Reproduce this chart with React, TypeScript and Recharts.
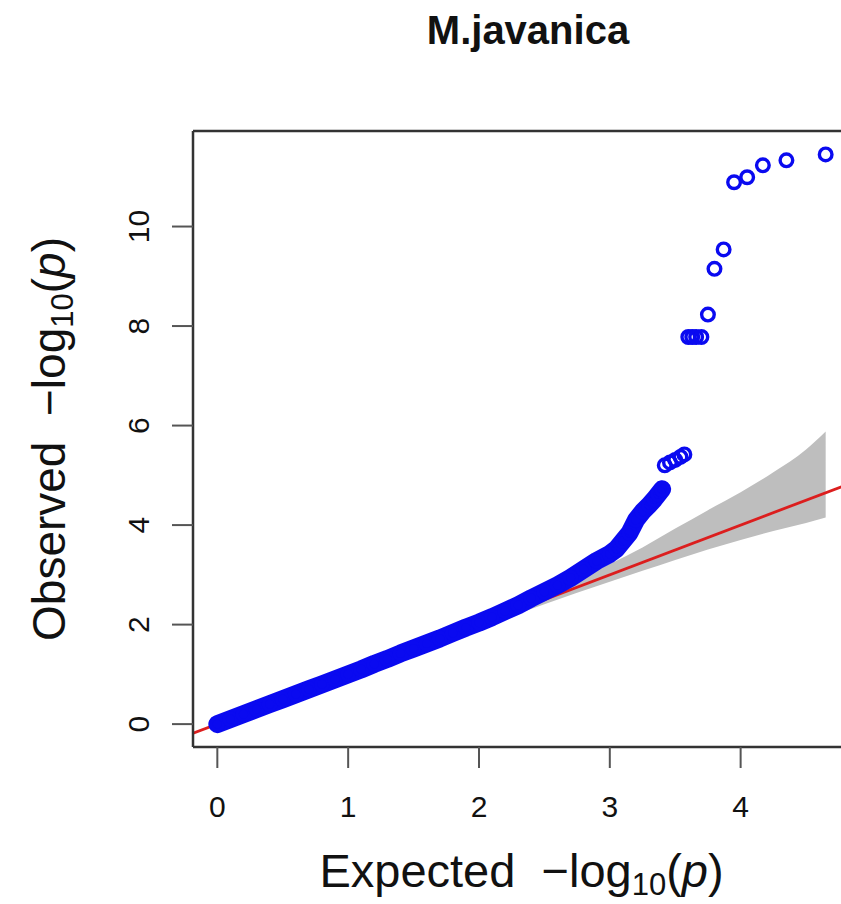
import { ComposedChart, Area, Line, Scatter, XAxis, YAxis, ReferenceLine } from "recharts";

const TITLE = "M.javanica";
const X_TICKS = [0, 1, 2, 3, 4];
const Y_TICKS = [0, 2, 4, 6, 8, 10];
const X_DOMAIN = [-0.186, 4.836];
const Y_DOMAIN = [-0.46, 11.92];

const BLUE = "#0a0af0";
const RED = "#dc1e1e";
const GREY = "#bebebe";
const FONT = "'Liberation Sans', Arial, Helvetica, sans-serif";

// confidence band around the null line (expected, lower, upper)
const bandX = [0, 1, 2, 2.5, 3.0, 3.25, 3.5, 3.75, 4.0, 4.25, 4.5, 4.65];
const bandLow = [0, 0.97, 1.94, 2.41, 2.86, 3.08, 3.3, 3.51, 3.7, 3.88, 4.04, 4.15];
const bandHigh = [0, 1.03, 2.08, 2.63, 3.22, 3.55, 3.93, 4.3, 4.66, 5.06, 5.52, 5.88];

// bulk of the p-values, where the circles overlap into a solid band
const denseExp = [
  0, 0.1, 0.2, 0.3, 0.4, 0.5, 0.6, 0.7, 0.8, 0.9, 1.0, 1.1, 1.2, 1.3, 1.4, 1.5,
  1.6, 1.7, 1.8, 1.9, 2.0, 2.1, 2.2, 2.3, 2.4, 2.5, 2.6, 2.7, 2.8, 2.9, 3.0,
  3.05, 3.1, 3.15, 3.2, 3.25, 3.3, 3.34, 3.37, 3.4,
];
const denseObs = [
  0, 0.1, 0.2, 0.3, 0.4, 0.5, 0.6, 0.7, 0.8, 0.9, 1.0, 1.1, 1.21, 1.31, 1.42, 1.52,
  1.62, 1.72, 1.83, 1.94, 2.04, 2.15, 2.27, 2.39, 2.53, 2.66, 2.79, 2.94, 3.11, 3.28, 3.42,
  3.52, 3.68, 3.84, 4.1, 4.27, 4.4, 4.52, 4.62, 4.72,
];

// separated top hits
const tailExp = [3.42, 3.46, 3.5, 3.54, 3.57, 3.6, 3.63, 3.66, 3.7, 3.75, 3.8, 3.87, 3.95, 4.05, 4.17, 4.35, 4.65];
const tailObs = [5.2, 5.26, 5.31, 5.37, 5.42, 7.78, 7.78, 7.78, 7.78, 8.23, 9.15, 9.54, 10.89, 10.99, 11.23, 11.33, 11.45];

// y = x reference
const diagX = [-1, 6];

const bandData = bandX.map((x, i) => ({ x, range: [bandLow[i], bandHigh[i]] }));
const densePts = denseExp.map((x, i) => ({ x, y: denseObs[i] }));
const tailPts = tailExp.map((x, i) => ({ x, y: tailObs[i] }));
const diagPts = diagX.map((x) => ({ x, y: x }));

const ring = (p: any) => (
  <circle cx={p.cx} cy={p.cy} r={6.3} fill="none" stroke={BLUE} strokeWidth={3.4} />
);

const XTick = (p: any) => (
  <text x={p.x} y={p.y + 47} textAnchor="middle" fontSize={30} fontFamily={FONT} fill="#111">
    {p.payload.value}
  </text>
);

const YTick = (p: any) => (
  <text
    x={p.x - 21}
    y={p.y}
    textAnchor="middle"
    fontSize={30}
    fontFamily={FONT}
    fill="#111"
    transform={`rotate(-90, ${p.x - 21}, ${p.y})`}
  >
    {p.payload.value}
  </text>
);

const AxisText = ({ name }: { name: string }) => (
  <>
    <tspan>{`${name}\u00a0 \u2212log`}</tspan>
    <tspan fontSize={31} dy={8}>10</tspan>
    <tspan dy={-8}>(</tspan>
    <tspan fontStyle="italic">p</tspan>
    <tspan>)</tspan>
  </>
);

const XTitle = (p: any) => {
  const vb = p.viewBox;
  const cx = vb.x + vb.width / 2;
  return (
    <text x={cx} y={vb.y + 140} textAnchor="middle" fontSize={47} fontFamily={FONT} fill="#111">
      <AxisText name="Expected" />
    </text>
  );
};

const YTitle = (p: any) => {
  const vb = p.viewBox;
  const cy = vb.y + vb.height / 2;
  const bx = 65;
  return (
    <text
      x={bx}
      y={cy}
      textAnchor="middle"
      fontSize={46}
      fontFamily={FONT}
      fill="#111"
      transform={`rotate(-90, ${bx}, ${cy})`}
    >
      <AxisText name="Observed" />
    </text>
  );
};

export default function App() {
  return (
    <div
      style={{
        position: "absolute",
        left: 0,
        top: 0,
        width: 841,
        height: 904,
        overflow: "hidden",
        background: "#fff",
      }}
    >
      <div
        style={{
          position: "absolute",
          left: 328,
          top: 7,
          width: 400,
          textAlign: "center",
          fontFamily: FONT,
          fontWeight: 700,
          fontSize: 40,
          lineHeight: "46px",
          color: "#111",
        }}
      >
        {TITLE}
      </div>
      <ComposedChart
        width={860}
        height={904}
        data={bandData}
        margin={{ top: 131, right: 10, bottom: 27, left: 0 }}
      >
        <XAxis
          dataKey="x"
          type="number"
          domain={X_DOMAIN}
          allowDataOverflow
          ticks={X_TICKS}
          interval={0}
          height={130}
          tickSize={21}
          tickLine={{ stroke: "#555", strokeWidth: 2 }}
          axisLine={{ stroke: "#333", strokeWidth: 2.5 }}
          tick={XTick}
          label={{ content: XTitle }}
        />
        <YAxis
          dataKey="y"
          type="number"
          domain={Y_DOMAIN}
          allowDataOverflow
          ticks={Y_TICKS}
          interval={0}
          width={193}
          tickSize={21}
          tickLine={{ stroke: "#555", strokeWidth: 2 }}
          axisLine={{ stroke: "#333", strokeWidth: 2.5 }}
          tick={YTick}
          label={{ content: YTitle }}
        />
        {/* top edge of the plot box */}
        <ReferenceLine y={Y_DOMAIN[1]} stroke="#333" strokeWidth={2.5} ifOverflow="visible" />
        <Area
          dataKey="range"
          type="monotone"
          stroke="none"
          fill={GREY}
          fillOpacity={1}
          dot={false}
          activeDot={false}
          isAnimationActive={false}
        />
        <Line
          data={diagPts}
          dataKey="y"
          type="linear"
          stroke={RED}
          strokeWidth={2.8}
          dot={false}
          activeDot={false}
          isAnimationActive={false}
        />
        <Line
          data={densePts}
          dataKey="y"
          type="linear"
          stroke={BLUE}
          strokeWidth={18}
          strokeLinecap="round"
          strokeLinejoin="round"
          dot={false}
          activeDot={false}
          isAnimationActive={false}
        />
        <Scatter data={densePts} dataKey="y" shape={ring} isAnimationActive={false} />
        <Scatter data={tailPts} dataKey="y" shape={ring} isAnimationActive={false} />
      </ComposedChart>
    </div>
  );
}
